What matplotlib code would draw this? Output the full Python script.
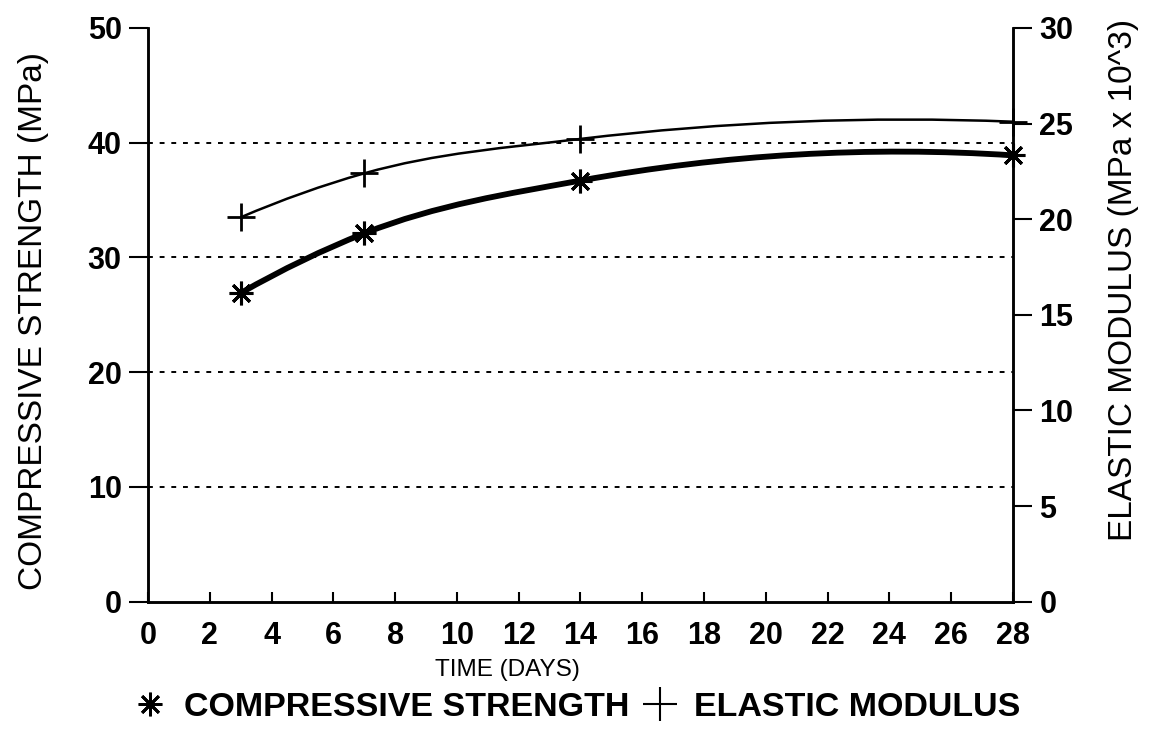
import matplotlib
matplotlib.use('Agg')
import matplotlib.pyplot as plt
from matplotlib.path import Path
from matplotlib.patches import PathPatch
from matplotlib.lines import Line2D
import numpy as np

plt.rcParams['font.family'] = ['Liberation Sans', 'DejaVu Sans']

# data
days = [3, 7, 14, 28]
compressive_strength = [26.9, 32.1, 36.7, 38.9]   # MPa, left axis
elastic_modulus = [20.1, 22.4, 24.2, 25.1]        # MPa x 10^3, right axis

x_ticks = list(range(0, 29, 2))
left_ticks = [0, 10, 20, 30, 40, 50]
right_ticks = [0, 5, 10, 15, 20, 25, 30]
grid_levels = [10, 20, 30, 40]


def smooth_path(xs, ys):
    # cubic bezier through the points (hermite tangents), drawn by matplotlib
    xs = np.asarray(xs, float)
    ys = np.asarray(ys, float)
    h = np.diff(xs)
    d = np.diff(ys) / h
    m = np.zeros(len(xs))
    for i in range(1, len(xs) - 1):
        m[i] = (d[i - 1] * h[i] + d[i] * h[i - 1]) / (h[i - 1] + h[i])
    m[0] = 2 * d[0] - m[1]
    m[-1] = 2 * d[-1] - m[-2]
    verts = [(xs[0], ys[0])]
    codes = [Path.MOVETO]
    for i in range(len(xs) - 1):
        verts += [(xs[i] + h[i] / 3, ys[i] + m[i] * h[i] / 3),
                  (xs[i + 1] - h[i] / 3, ys[i + 1] - m[i + 1] * h[i] / 3),
                  (xs[i + 1], ys[i + 1])]
        codes += [Path.CURVE4] * 3
    return Path(verts, codes)


fig = plt.figure(figsize=(11.52, 7.29), dpi=100)
ax = fig.add_axes([0.1285, 0.1746, 0.8793 - 0.1285, 0.9616 - 0.1746])
ax2 = ax.twinx()

ax.set_xlim(0, 28)
ax.set_ylim(0, 50)
ax2.set_ylim(0, 30)

# dotted grid lines
for g in grid_levels:
    ax.axhline(g, color='black', linestyle=(0, (2.5, 3.5)), linewidth=1.4, zorder=1)

# compressive strength
ax.add_patch(PathPatch(smooth_path(days, compressive_strength), fill=False,
                       edgecolor='black', linewidth=4.2, zorder=3))
ax.plot(days, compressive_strength, linestyle='none', marker=(8, 2, 0),
        markersize=17, markeredgewidth=2.2, color='black', zorder=4, clip_on=False)

# elastic modulus
ax2.add_patch(PathPatch(smooth_path(days, elastic_modulus), fill=False,
                        edgecolor='black', linewidth=1.8, zorder=3))
ax2.plot(days, elastic_modulus, linestyle='none', marker='+',
         markersize=20, markeredgewidth=2.0, color='black', zorder=4, clip_on=False)

# spines
for a in (ax, ax2):
    a.spines['top'].set_visible(False)
    for s in ('left', 'right', 'bottom'):
        a.spines[s].set_linewidth(1.8)

ax.set_xticks(x_ticks)
ax.set_yticks(left_ticks)
ax2.set_yticks(right_ticks)

ax.tick_params(axis='x', direction='in', length=7, width=1.5, pad=14, labelsize=22)
ax.tick_params(axis='y', direction='out', length=14, width=1.5, pad=5, labelsize=22)
ax2.tick_params(axis='y', direction='out', length=14, width=1.5, pad=5, labelsize=22)
for lab in ax.get_xticklabels() + ax.get_yticklabels() + ax2.get_yticklabels():
    lab.set_fontweight('bold')

ax.set_xlabel('TIME (DAYS)', fontsize=17.5)
ax.xaxis.set_label_coords(0.416, -0.100)
ax.set_ylabel('COMPRESSIVE STRENGTH (MPa)', fontsize=24)
ax.yaxis.set_label_coords(-0.115, 0.49)
ax2.set_ylabel('ELASTIC MODULUS (MPa x 10^3)', fontsize=24)
ax2.yaxis.set_label_coords(1.110, 0.56)

handles = [
    Line2D([], [], linestyle='none', marker=(8, 2, 0), markersize=17,
           markeredgewidth=2.0, color='black'),
    Line2D([], [], linestyle='none', marker='+', markersize=24,
           markeredgewidth=1.5, color='black'),
]
fig.legend(handles, ['COMPRESSIVE STRENGTH', 'ELASTIC MODULUS'], loc='center',
           bbox_to_anchor=(0.502, 0.029), ncol=2, frameon=False,
           prop={'size': 24.5, 'weight': 'bold'}, handlelength=0.8,
           handletextpad=0.6, columnspacing=0.5)

fig.savefig('out.png', dpi=100)
plt.close(fig)
